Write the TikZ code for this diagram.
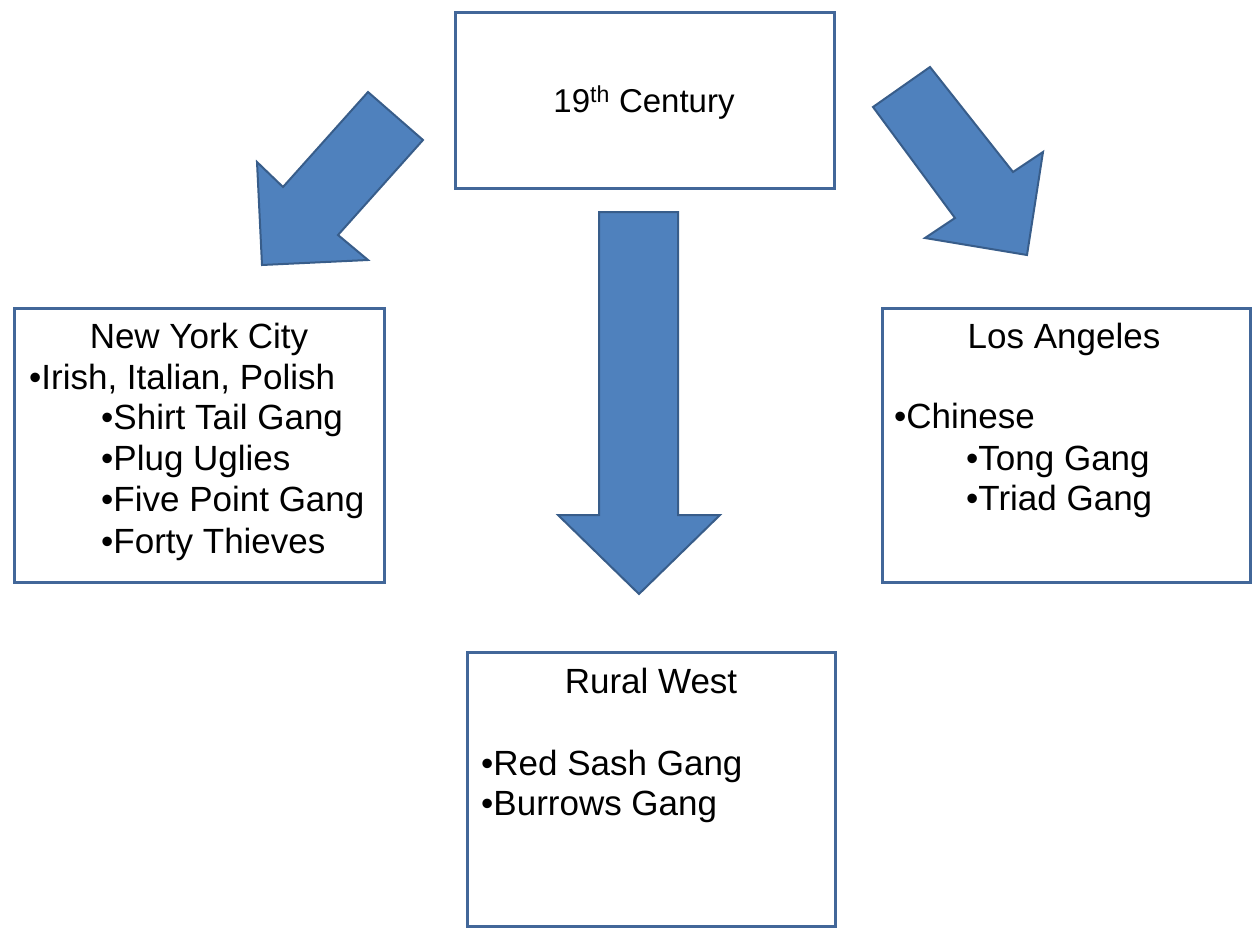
\documentclass[tikz,border=0pt]{standalone}
\usepackage{fontspec}
\setmainfont{Liberation Sans}
\definecolor{boxline}{RGB}{66,103,153}
\definecolor{arrfill}{RGB}{79,129,189}
\definecolor{arrline}{RGB}{56,93,138}
\begin{document}
\begin{tikzpicture}[x=1pt,y=-1pt,
  box/.style={draw=boxline,line width=3pt,fill=white},
  blockarrow/.style={fill=arrfill,draw=arrline,line width=2pt,line join=miter},
  txt/.style={inner sep=0pt,font=\fontsize{35}{42}\selectfont},
  toptxt/.style={inner sep=0pt,font=\fontsize{33}{40}\selectfont},
  ]
\useasboundingbox (0,0) rectangle (1259,930);
% boxes
\draw[box] (455,12) rectangle (834,188);
\draw[box] (14,308) rectangle (384,582);
\draw[box] (882,308) rectangle (1250,582);
\draw[box] (467,652) rectangle (835,926);
% arrows
\draw[blockarrow] (368,92) -- (423,140) -- (338,235) -- (368,260) -- (262,265) -- (257,162) -- (283,187) -- cycle;
\draw[blockarrow] (599,212) -- (678,212) -- (678,515) -- (720,515) -- (639,594) -- (558,515) -- (599,515) -- cycle;
\draw[blockarrow] (873,107) -- (930,67) -- (1013,172) -- (1043,152) -- (1027,255) -- (925,238) -- (955,218) -- cycle;
% texts
\node[toptxt,anchor=base] (cent) at (644,112) {19\textsuperscript{th} Century};
\node[txt,anchor=base] (nyc) at (199,348) {New York City};
\node[txt,anchor=base west] (n1) at (29,389) {•Irish, Italian, Polish};
\node[txt,anchor=base west] (n2) at (101,429) {•Shirt Tail Gang};
\node[txt,anchor=base west] (n3) at (101,470) {•Plug Uglies};
\node[txt,anchor=base west] (n4) at (101,511) {•Five Point Gang};
\node[txt,anchor=base west] (n5) at (101,553) {•Forty Thieves};
\node[txt,anchor=base] (la) at (1064,348) {Los Angeles};
\node[txt,anchor=base west] (l1) at (894,428) {•Chinese};
\node[txt,anchor=base west] (l2) at (966,470) {•Tong Gang};
\node[txt,anchor=base west] (l3) at (966,510) {•Triad Gang};
\node[txt,anchor=base] (rw) at (651,693) {Rural West};
\node[txt,anchor=base west] (r1) at (481,775) {•Red Sash Gang};
\node[txt,anchor=base west] (r2) at (481,815) {•Burrows Gang};
\end{tikzpicture}
\end{document}
